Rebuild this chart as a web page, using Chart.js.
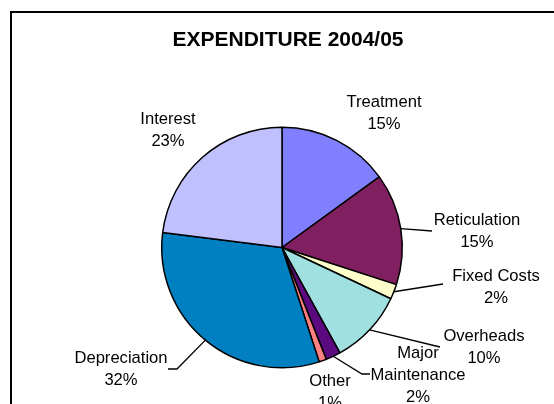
<!DOCTYPE html>
<html>
<head>
<meta charset="utf-8">
<script src="https://cdn.jsdelivr.net/npm/chart.js@4/dist/chart.umd.min.js"></script>
<style>
  html, body { margin: 0; padding: 0; background: #ffffff; }
  #wrap { width: 554px; height: 404px; position: relative; }
</style>
</head>
<body>
<div id="wrap"><canvas id="c" width="554" height="404"></canvas></div>
<script>
// ---- data ----
const chartTitle = 'EXPENDITURE 2004/05';
const categories = ['Treatment', 'Reticulation', 'Fixed Costs', 'Overheads', 'Major Maintenance', 'Other', 'Depreciation', 'Interest'];
const values = [15, 15, 2, 10, 2, 1, 32, 23];
const sliceColors = ['#8080FF', '#802060', '#FFFFCC', '#A0E0E0', '#5C0A80', '#FF8080', '#0080C0', '#C0C0FF'];

// label placement (text centre of first line) and optional leader path
const labelLayout = [
  { x: 384, y: 102, lines: ['Treatment'] },
  { x: 477, y: 220, lines: ['Reticulation'], leader: [[432, 231]] },
  { x: 496, y: 276, lines: ['Fixed Costs'], leader: [[443, 284]] },
  { x: 484, y: 336, lines: ['Overheads'], leader: [[440, 347]] },
  { x: 418, y: 353, lines: ['Major', 'Maintenance'], leader: [[362, 374], [370, 374]] },
  { x: 330, y: 381, lines: ['Other'] },
  { x: 121, y: 358, lines: ['Depreciation'], leader: [[177, 369], [168, 369]] },
  { x: 168, y: 119, lines: ['Interest'] }
];

const total = values.reduce((a, b) => a + b, 0);

const overlayPlugin = {
  id: 'overlay',
  afterDraw(chart) {
    const ctx = chart.ctx;
    ctx.save();
    // frame
    ctx.strokeStyle = '#000';
    ctx.lineWidth = 2;
    ctx.beginPath();
    ctx.moveTo(11, 406);
    ctx.lineTo(11, 12);
    ctx.lineTo(556, 12);
    ctx.stroke();

    // title
    ctx.fillStyle = '#000';
    ctx.font = 'bold 21px "Liberation Sans", Arial, sans-serif';
    ctx.textAlign = 'center';
    ctx.textBaseline = 'middle';
    ctx.fillText(chartTitle, 288, 40);

    // labels + leaders
    const meta = chart.getDatasetMeta(0);
    ctx.font = '16.6px "Liberation Sans", Arial, sans-serif';
    ctx.lineWidth = 1.3;
    meta.data.forEach((arc, i) => {
      const L = labelLayout[i];
      if (L.leader) {
        const mid = (arc.startAngle + arc.endAngle) / 2;
        const sx = arc.x + Math.cos(mid) * arc.outerRadius;
        const sy = arc.y + Math.sin(mid) * arc.outerRadius;
        ctx.beginPath();
        ctx.moveTo(sx, sy);
        L.leader.forEach(p => ctx.lineTo(p[0], p[1]));
        ctx.stroke();
      }
      const pct = Math.round(values[i] / total * 100) + '%';
      const lines = L.lines.concat([pct]);
      lines.forEach((t, k) => ctx.fillText(t, L.x, L.y + k * 22));
    });
    ctx.restore();
  }
};

new Chart(document.getElementById('c'), {
  type: 'pie',
  data: {
    labels: categories,
    datasets: [{
      data: values,
      backgroundColor: sliceColors,
      borderColor: '#000',
      borderWidth: 1.5
    }]
  },
  options: {
    responsive: false,
    animation: false,
    layout: { padding: { left: 161, right: 151, top: 126.5, bottom: 35.5 } },
    plugins: { legend: { display: false }, tooltip: { enabled: false }, title: { display: false } }
  },
  plugins: [overlayPlugin]
});
</script>
</body>
</html>
